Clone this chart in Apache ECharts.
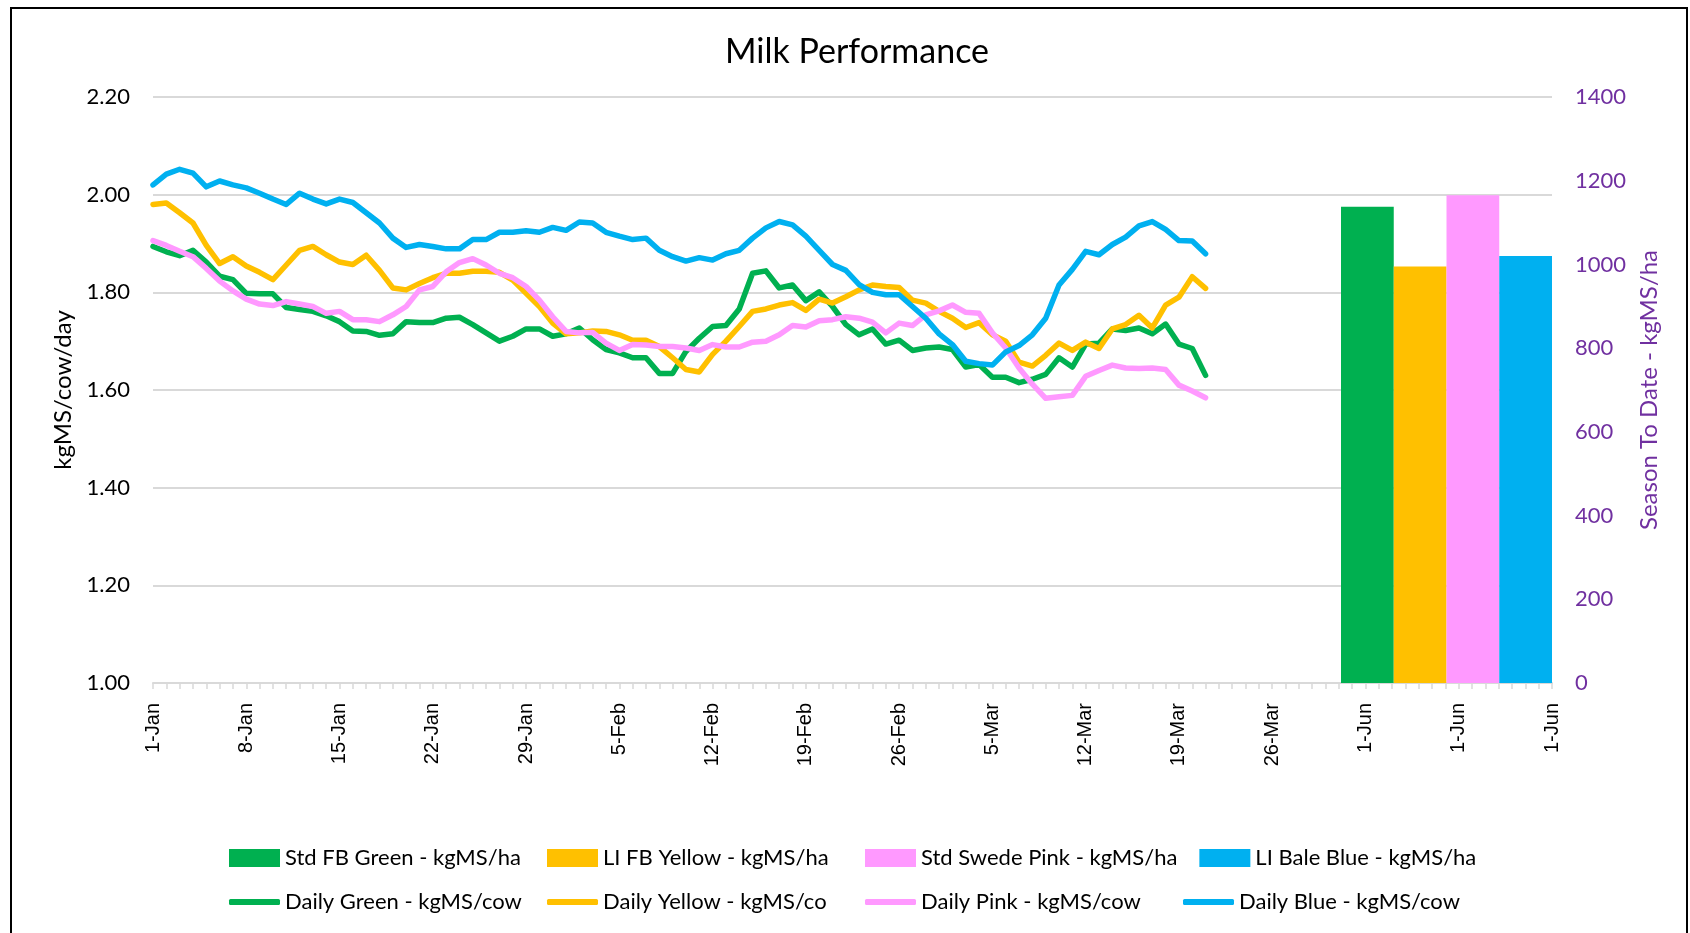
<!DOCTYPE html>
<html>
<head>
<meta charset="utf-8">
<title>Milk Performance</title>
<script src="https://cdn.jsdelivr.net/npm/echarts@6/dist/echarts.min.js"></script>
<style>
	html,body{margin:0;padding:0;background:#fff;}
	#chart{width:1690px;height:933px;}
</style>
</head>
<body>
<div id="chart"></div>
<script>
// x categories: daily dates 1-Jan .. 31-Mar, then the blank "1-Jun" slots under the columns
var monthNames = ['Jan', 'Feb', 'Mar'];
var monthDays = [31, 28, 31];
var categories = [];
for (var m = 0; m < monthNames.length; m++) {
	for (var d = 1; d <= monthDays[m]; d++) {
		categories.push(d + '-' + monthNames[m]);
	}
}
while (categories.length < 106) {
	categories.push('1-Jun');
}

// daily kgMS/cow
var dailyGreen = [1.894,1.883,1.875,1.886,1.862,1.833,1.826,1.798,1.797,1.797,
	1.769,1.765,1.761,1.752,1.740,1.721,1.720,1.712,1.715,1.740,
	1.738,1.738,1.747,1.749,1.734,1.717,1.700,1.710,1.725,1.725,
	1.710,1.715,1.727,1.703,1.683,1.676,1.666,1.666,1.634,1.634,
	1.679,1.706,1.730,1.732,1.766,1.839,1.844,1.809,1.815,1.783,
	1.801,1.771,1.734,1.713,1.725,1.694,1.702,1.681,1.686,1.688,
	1.683,1.647,1.652,1.626,1.626,1.615,1.622,1.632,1.666,1.647,
	1.694,1.696,1.725,1.722,1.727,1.715,1.735,1.694,1.685,1.630];
var dailyYellow = [1.980,1.983,1.963,1.942,1.896,1.859,1.873,1.854,1.841,1.826,
	1.856,1.886,1.894,1.877,1.862,1.857,1.876,1.845,1.809,1.805,
	1.818,1.830,1.839,1.839,1.843,1.843,1.841,1.825,1.798,1.771,
	1.737,1.715,1.717,1.721,1.720,1.713,1.702,1.702,1.689,1.666,
	1.642,1.637,1.673,1.700,1.730,1.761,1.766,1.774,1.779,1.763,
	1.786,1.778,1.791,1.805,1.815,1.812,1.810,1.784,1.778,1.761,
	1.747,1.728,1.738,1.713,1.700,1.657,1.649,1.671,1.696,1.681,
	1.698,1.685,1.725,1.734,1.753,1.727,1.774,1.790,1.832,1.808];
var dailyPink = [1.906,1.896,1.884,1.873,1.849,1.823,1.803,1.786,1.776,1.773,
	1.781,1.776,1.771,1.757,1.761,1.744,1.744,1.740,1.754,1.771,
	1.805,1.812,1.842,1.861,1.869,1.856,1.839,1.830,1.812,1.784,
	1.750,1.720,1.717,1.718,1.696,1.681,1.693,1.692,1.689,1.689,
	1.686,1.681,1.693,1.688,1.688,1.698,1.700,1.713,1.732,1.729,
	1.742,1.744,1.750,1.747,1.739,1.717,1.737,1.732,1.754,1.762,
	1.774,1.759,1.757,1.717,1.686,1.645,1.612,1.583,1.586,1.589,
	1.628,1.640,1.651,1.645,1.644,1.645,1.642,1.610,1.598,1.584];
var dailyBlue = [2.020,2.042,2.052,2.044,2.016,2.028,2.020,2.014,2.003,1.991,
	1.980,2.003,1.991,1.981,1.991,1.984,1.963,1.942,1.911,1.892,
	1.898,1.894,1.889,1.889,1.908,1.908,1.923,1.923,1.926,1.923,
	1.933,1.927,1.944,1.942,1.923,1.915,1.908,1.911,1.886,1.873,
	1.864,1.871,1.866,1.879,1.886,1.911,1.932,1.945,1.938,1.915,
	1.886,1.857,1.845,1.816,1.800,1.795,1.795,1.771,1.747,1.715,
	1.693,1.659,1.654,1.651,1.678,1.691,1.713,1.747,1.815,1.847,
	1.884,1.877,1.898,1.913,1.936,1.945,1.929,1.906,1.905,1.879];

// season to date kgMS/ha
var stdGreen = [1138];
var fbYellow = [995];
var swedePink = [1165];
var baleBlue = [1020];

var barNames = ['Std FB Green - kgMS/ha', 'LI FB Yellow - kgMS/ha', 'Std Swede Pink - kgMS/ha', 'LI Bale Blue - kgMS/ha'];
var lineNames = ['Daily Green - kgMS/cow', 'Daily Yellow - kgMS/co', 'Daily Pink - kgMS/cow', 'Daily Blue - kgMS/cow'];

var GREEN = '#00B050', YELLOW = '#FFC000', PINK = '#FF99FF', BLUE = '#00B0F0';
var PURPLE = '#7030A0';
var FONT = 'Lato';

function lineSeries(name, data, color) {
	return {
		name: name,
		type: 'line',
		xAxisIndex: 0,
		yAxisIndex: 0,
		data: data,
		showSymbol: false,
		symbol: 'none',
		color: color,
		lineStyle: {width: 5.5, color: color, cap: 'round', join: 'round'},
		emphasis: {disabled: true}
	};
}
function barSeries(name, data, color) {
	return {
		name: name,
		type: 'bar',
		xAxisIndex: 1,
		yAxisIndex: 2,
		data: data,
		color: color,
		barGap: 0,
		barCategoryGap: 0,
		itemStyle: {color: color},
		emphasis: {disabled: true}
	};
}

var myChart = echarts.init(document.getElementById('chart'));
myChart.setOption({
	animation: false,
	backgroundColor: '#fff',
	title: {
		text: 'Milk Performance',
		left: 857,
		top: 35,
		padding: 0,
		textAlign: 'center',
		textStyle: {fontFamily: FONT, fontSize: 34, fontWeight: 'normal', color: '#000'}
	},
	graphic: [{
		type: 'rect',
		shape: {x: 11, y: 8, width: 1676, height: 960},
		style: {fill: null, stroke: '#000', lineWidth: 2},
		silent: true
	}],
	legend: [{
		data: barNames,
		left: 229,
		top: 845,
		padding: 0,
		itemWidth: 51,
		itemHeight: 18,
		itemGap: 22,
		icon: 'rect',
		textStyle: {fontFamily: FONT, fontSize: 22, color: '#000', width: 240, lineHeight: 26}
	}, {
		data: lineNames,
		left: 229,
		top: 889,
		padding: 0,
		itemWidth: 51,
		itemHeight: 6,
		itemGap: 22,
		icon: 'roundRect',
		textStyle: {fontFamily: FONT, fontSize: 22, color: '#000', width: 240, lineHeight: 26}
	}],
	grid: [
		{left: 153, right: 138, top: 97, bottom: 250},
		{left: 1341, right: 138, top: 97, bottom: 250}
	],
	xAxis: [{
		type: 'category',
		gridIndex: 0,
		data: categories,
		boundaryGap: false,
		axisLine: {lineStyle: {color: '#D9D9D9', width: 2}},
		axisTick: {show: true, interval: 0, length: 6, lineStyle: {color: '#D9D9D9', width: 1.5}},
		axisLabel: {
			interval: 6,
			rotate: 90,
			margin: 20,
			fontFamily: 'Liberation Sans',
			fontSize: 20,
			color: '#000'
		},
		splitLine: {show: false}
	}, {
		type: 'category',
		gridIndex: 1,
		data: ['STD'],
		show: false
	}],
	yAxis: [{
		type: 'value',
		gridIndex: 0,
		min: 1,
		max: 2.2,
		interval: 0.2,
		name: 'kgMS/cow/day',
		nameLocation: 'middle',
		nameRotate: 90,
		nameGap: 73,
		nameTextStyle: {fontFamily: FONT, fontSize: 24, color: '#000'},
		axisLine: {show: false},
		axisTick: {show: false},
		axisLabel: {
			margin: 23,
			fontFamily: FONT,
			fontSize: 22,
			color: '#000',
			formatter: function (v) { return v.toFixed(2); }
		},
		splitLine: {lineStyle: {color: '#D9D9D9', width: 2}}
	}, {
		type: 'value',
		gridIndex: 0,
		position: 'right',
		min: 0,
		max: 1400,
		interval: 200,
		name: 'Season To Date - kgMS/ha',
		nameLocation: 'middle',
		nameRotate: 90,
		nameGap: 79,
		nameTextStyle: {fontFamily: FONT, fontSize: 24, color: PURPLE},
		axisLine: {show: false},
		axisTick: {show: false},
		axisLabel: {
			margin: 23,
			fontFamily: FONT,
			fontSize: 22,
			color: PURPLE,
			formatter: function (v) { return String(v); }
		},
		splitLine: {show: false}
	}, {
		type: 'value',
		gridIndex: 1,
		min: 0,
		max: 1400,
		show: false,
		splitLine: {show: false}
	}],
	series: [
		barSeries(barNames[0], stdGreen, GREEN),
		barSeries(barNames[1], fbYellow, YELLOW),
		barSeries(barNames[2], swedePink, PINK),
		barSeries(barNames[3], baleBlue, BLUE),
		lineSeries(lineNames[0], dailyGreen, GREEN),
		lineSeries(lineNames[1], dailyYellow, YELLOW),
		lineSeries(lineNames[2], dailyPink, PINK),
		lineSeries(lineNames[3], dailyBlue, BLUE)
	]
});
</script>
</body>
</html>
